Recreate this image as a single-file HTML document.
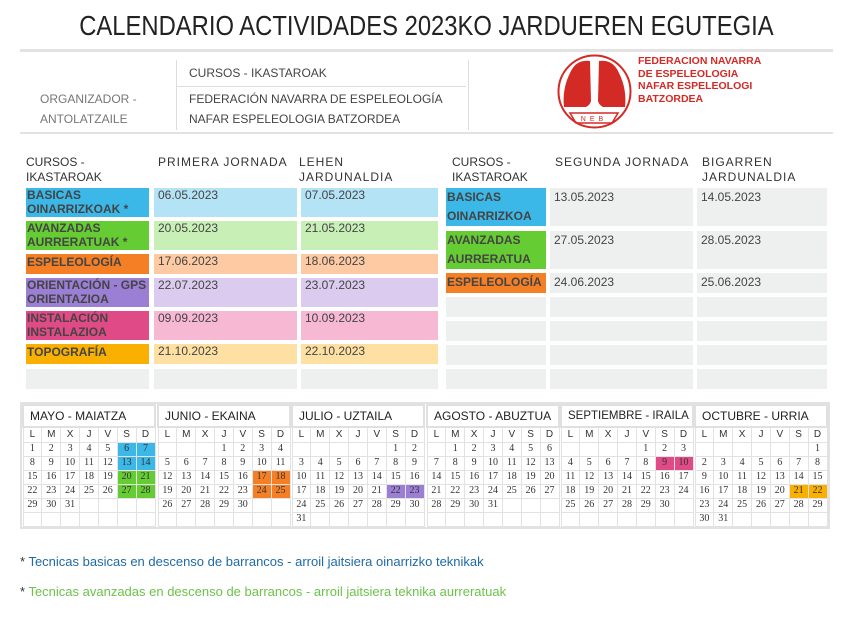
<!DOCTYPE html>
<html><head><meta charset="utf-8">
<style>
*{margin:0;padding:0;box-sizing:border-box}
body{width:853px;height:625px;background:#fff;font-family:"Liberation Sans",sans-serif;color:#333;position:relative;overflow:hidden}
.a{position:absolute}
.t{font-size:12px;color:#444;line-height:16px}
.h{font-size:12px;color:#333;letter-spacing:1px;line-height:15px}
.lab{font-weight:bold;font-size:12px;line-height:16px;color:#444;padding-left:1px;white-space:nowrap;overflow:hidden}
.d{font-size:12px;color:#444;padding-left:4px;line-height:15px}
table.m{position:absolute;border-collapse:collapse;table-layout:fixed;width:134px;font-family:"Liberation Serif",serif;font-size:10px;color:#333}
table.m td{border:1px solid #e2e2e2;width:19px;height:14px;text-align:center;padding:0;line-height:12px;overflow:hidden}
table.m tr.dh td{font-family:"Liberation Sans",sans-serif;font-size:10px;height:15px}
table.m th{font-family:"Liberation Sans",sans-serif;font-weight:normal;font-size:12px;text-align:left;padding-left:6px;height:22px;border:2px solid #e0e0e0;color:#222;white-space:nowrap;overflow:hidden}
.b{background:#3bb8e8}.g{background:#66cc33}.o{background:#f57f25}.p{background:#9b7fd4}.k{background:#e04a86}.y{background:#f9b000}
</style></head><body>
<div class="a" style="left:0;width:853px;top:10px;text-align:center;font-size:28px;color:#222;transform:scaleX(0.85);transform-origin:426px 0">CALENDARIO ACTIVIDADES 2023KO JARDUEREN EGUTEGIA</div>
<div class="a" style="left:20px;top:49px;width:813px;height:3px;background:#e2e2e2"></div>
<div class="a" style="left:20px;top:132px;width:813px;height:2px;background:#e2e2e2"></div>
<div class="a" style="left:176px;top:60px;width:1px;height:70px;background:#ddd"></div>
<div class="a" style="left:468px;top:60px;width:1px;height:70px;background:#ddd"></div>
<div class="a" style="left:176px;top:86px;width:290px;height:1px;background:#ddd"></div>
<div class="a t" style="left:189px;top:65px">CURSOS - IKASTAROAK</div>
<div class="a t" style="left:40px;top:89px;color:#777;line-height:20px">ORGANIZADOR -<br>ANTOLATZAILE</div>
<div class="a t" style="left:189px;top:89px;line-height:20px">FEDERACIÓN NAVARRA DE ESPELEOLOGÍA<br>NAFAR ESPELEOLOGIA BATZORDEA</div>
<svg class="a" style="left:556px;top:53px" width="77" height="77" viewBox="0 0 77 77">
<circle cx="38.5" cy="38.5" r="36" fill="#fff" stroke="#d42a25" stroke-width="2"/>
<path d="M14 20 Q20 6 34 8 L35 48 Q34 52 30 54 L8 54 Q6 36 14 20Z" fill="#d42a25"/>
<path d="M63 20 Q57 6 43 8 L42 48 Q43 52 47 54 L69 54 Q71 36 63 20Z" fill="#d42a25"/>
<path d="M14 60 L62 60 L56 70 L20 70Z" fill="none" stroke="#d42a25" stroke-width="1.5"/>
<text x="38" y="68" font-size="7" fill="#d42a25" text-anchor="middle" font-family="Liberation Sans" letter-spacing="4">NEB</text>
</svg>
<div class="a" style="left:638px;top:55px;font-weight:bold;font-size:10.5px;line-height:12.5px;color:#d42a25">FEDERACION NAVARRA<br>DE ESPELEOLOGIA<br>NAFAR ESPELEOLOGI<br>BATZORDEA</div>

<div class="a h" style="left:26px;top:155px;letter-spacing:0">CURSOS -<br>IKASTAROAK</div>
<div class="a h" style="left:158px;top:155px">PRIMERA JORNADA</div>
<div class="a h" style="left:299px;top:155px">LEHEN<br>JARDUNALDIA</div>

<div class="a lab b" style="left:26px;top:188px;width:123px;height:29px;line-height:14px">BASICAS<br>OINARRIZKOAK *</div>
<div class="a d" style="left:154px;top:188px;width:143px;height:29px;background:#b5e3f6">06.05.2023</div>
<div class="a d" style="left:301px;top:188px;width:137px;height:29px;background:#b5e3f6">07.05.2023</div>
<div class="a lab g" style="left:26px;top:221px;width:123px;height:29px;line-height:14px">AVANZADAS<br>AURRERATUAK *</div>
<div class="a d" style="left:154px;top:221px;width:143px;height:29px;background:#c8f0b6">20.05.2023</div>
<div class="a d" style="left:301px;top:221px;width:137px;height:29px;background:#c8f0b6">21.05.2023</div>
<div class="a lab o" style="left:26px;top:254px;width:123px;height:20px">ESPELEOLOGÍA</div>
<div class="a d" style="left:154px;top:254px;width:143px;height:20px;background:#fdcaa3">17.06.2023</div>
<div class="a d" style="left:301px;top:254px;width:137px;height:20px;background:#fdcaa3">18.06.2023</div>
<div class="a lab p" style="left:26px;top:278px;width:123px;height:29px;line-height:14px">ORIENTACIÓN - GPS<br>ORIENTAZIOA</div>
<div class="a d" style="left:154px;top:278px;width:143px;height:29px;background:#dacbef">22.07.2023</div>
<div class="a d" style="left:301px;top:278px;width:137px;height:29px;background:#dacbef">23.07.2023</div>
<div class="a lab k" style="left:26px;top:311px;width:123px;height:29px;line-height:14px">INSTALACIÓN<br>INSTALAZIOA</div>
<div class="a d" style="left:154px;top:311px;width:143px;height:29px;background:#f7b8d3">09.09.2023</div>
<div class="a d" style="left:301px;top:311px;width:137px;height:29px;background:#f7b8d3">10.09.2023</div>
<div class="a lab y" style="left:26px;top:344px;width:123px;height:20px">TOPOGRAFÍA</div>
<div class="a d" style="left:154px;top:344px;width:143px;height:20px;background:#fde0a2">21.10.2023</div>
<div class="a d" style="left:301px;top:344px;width:137px;height:20px;background:#fde0a2">22.10.2023</div>
<div class="a" style="left:26px;top:369px;width:123px;height:20px;background:#eef0ef"></div>
<div class="a" style="left:154px;top:369px;width:143px;height:20px;background:#eef0ef"></div>
<div class="a" style="left:301px;top:369px;width:137px;height:20px;background:#eef0ef"></div>

<div class="a h" style="left:452px;top:155px;letter-spacing:0">CURSOS -<br>IKASTAROAK</div>
<div class="a h" style="left:555px;top:155px">SEGUNDA JORNADA</div>
<div class="a h" style="left:702px;top:155px">BIGARREN<br>JARDUNALDIA</div>
<div class="a lab b" style="left:446px;top:188px;width:100px;height:38px;line-height:19px">BASICAS<br>OINARRIZKOA</div>
<div class="a d" style="left:550px;top:188px;width:143px;height:38px;background:#eef0ef;padding-top:2px">13.05.2023</div>
<div class="a d" style="left:697px;top:188px;width:130px;height:38px;background:#eef0ef;padding-top:2px">14.05.2023</div>
<div class="a lab g" style="left:446px;top:231px;width:100px;height:38px;line-height:19px">AVANZADAS<br>AURRERATUA</div>
<div class="a d" style="left:550px;top:231px;width:143px;height:38px;background:#eef0ef;padding-top:2px">27.05.2023</div>
<div class="a d" style="left:697px;top:231px;width:130px;height:38px;background:#eef0ef;padding-top:2px">28.05.2023</div>
<div class="a lab o" style="left:446px;top:273px;width:100px;height:20px;line-height:19px">ESPELEOLOGÍA</div>
<div class="a d" style="left:550px;top:273px;width:143px;height:20px;background:#eef0ef;padding-top:2px">24.06.2023</div>
<div class="a d" style="left:697px;top:273px;width:130px;height:20px;background:#eef0ef;padding-top:2px">25.06.2023</div>
<div class="a" style="left:446px;top:297px;width:100px;height:20px;background:#eef0ef"></div>
<div class="a" style="left:550px;top:297px;width:143px;height:20px;background:#eef0ef"></div>
<div class="a" style="left:697px;top:297px;width:130px;height:20px;background:#eef0ef"></div>
<div class="a" style="left:446px;top:321px;width:100px;height:20px;background:#eef0ef"></div>
<div class="a" style="left:550px;top:321px;width:143px;height:20px;background:#eef0ef"></div>
<div class="a" style="left:697px;top:321px;width:130px;height:20px;background:#eef0ef"></div>
<div class="a" style="left:446px;top:345px;width:100px;height:20px;background:#eef0ef"></div>
<div class="a" style="left:550px;top:345px;width:143px;height:20px;background:#eef0ef"></div>
<div class="a" style="left:697px;top:345px;width:130px;height:20px;background:#eef0ef"></div>
<div class="a" style="left:446px;top:369px;width:100px;height:20px;background:#eef0ef"></div>
<div class="a" style="left:550px;top:369px;width:143px;height:20px;background:#eef0ef"></div>
<div class="a" style="left:697px;top:369px;width:130px;height:20px;background:#eef0ef"></div>

<div class="a" style="left:20px;top:402px;width:810px;height:127px;border:2px solid #e2e2e2"></div>
<table class="m" style="left:22px;top:404px"><tr><th colspan="7">MAYO - MAIATZA</th></tr>
<tr class="dh"><td>L</td><td>M</td><td>X</td><td>J</td><td>V</td><td>S</td><td>D</td></tr>
<tr><td>1</td><td>2</td><td>3</td><td>4</td><td>5</td><td class="b">6</td><td class="b">7</td></tr>
<tr><td>8</td><td>9</td><td>10</td><td>11</td><td>12</td><td class="b">13</td><td class="b">14</td></tr>
<tr><td>15</td><td>16</td><td>17</td><td>18</td><td>19</td><td class="g">20</td><td class="g">21</td></tr>
<tr><td>22</td><td>23</td><td>24</td><td>25</td><td>26</td><td class="g">27</td><td class="g">28</td></tr>
<tr><td>29</td><td>30</td><td>31</td><td></td><td></td><td></td><td></td></tr>
<tr><td></td><td></td><td></td><td></td><td></td><td></td><td></td></tr></table>
<table class="m" style="left:157px;top:404px"><tr><th colspan="7">JUNIO - EKAINA</th></tr>
<tr class="dh"><td>L</td><td>M</td><td>X</td><td>J</td><td>V</td><td>S</td><td>D</td></tr>
<tr><td></td><td></td><td></td><td>1</td><td>2</td><td>3</td><td>4</td></tr>
<tr><td>5</td><td>6</td><td>7</td><td>8</td><td>9</td><td>10</td><td>11</td></tr>
<tr><td>12</td><td>13</td><td>14</td><td>15</td><td>16</td><td class="o">17</td><td class="o">18</td></tr>
<tr><td>19</td><td>20</td><td>21</td><td>22</td><td>23</td><td class="o">24</td><td class="o">25</td></tr>
<tr><td>26</td><td>27</td><td>28</td><td>29</td><td>30</td><td></td><td></td></tr>
<tr><td></td><td></td><td></td><td></td><td></td><td></td><td></td></tr></table>
<table class="m" style="left:291px;top:404px"><tr><th colspan="7">JULIO - UZTAILA</th></tr>
<tr class="dh"><td>L</td><td>M</td><td>X</td><td>J</td><td>V</td><td>S</td><td>D</td></tr>
<tr><td></td><td></td><td></td><td></td><td></td><td>1</td><td>2</td></tr>
<tr><td>3</td><td>4</td><td>5</td><td>6</td><td>7</td><td>8</td><td>9</td></tr>
<tr><td>10</td><td>11</td><td>12</td><td>13</td><td>14</td><td>15</td><td>16</td></tr>
<tr><td>17</td><td>18</td><td>19</td><td>20</td><td>21</td><td class="p">22</td><td class="p">23</td></tr>
<tr><td>24</td><td>25</td><td>26</td><td>27</td><td>28</td><td>29</td><td>30</td></tr>
<tr><td>31</td><td></td><td></td><td></td><td></td><td></td><td></td></tr></table>
<table class="m" style="left:426px;top:404px"><tr><th colspan="7">AGOSTO - ABUZTUA</th></tr>
<tr class="dh"><td>L</td><td>M</td><td>X</td><td>J</td><td>V</td><td>S</td><td>D</td></tr>
<tr><td></td><td>1</td><td>2</td><td>3</td><td>4</td><td>5</td><td>6</td></tr>
<tr><td>7</td><td>8</td><td>9</td><td>10</td><td>11</td><td>12</td><td>13</td></tr>
<tr><td>14</td><td>15</td><td>16</td><td>17</td><td>18</td><td>19</td><td>20</td></tr>
<tr><td>21</td><td>22</td><td>23</td><td>24</td><td>25</td><td>26</td><td>27</td></tr>
<tr><td>28</td><td>29</td><td>30</td><td>31</td><td></td><td></td><td></td></tr>
<tr><td></td><td></td><td></td><td></td><td></td><td></td><td></td></tr></table>
<table class="m" style="left:560px;top:404px"><tr><th colspan="7" style="font-size:11.5px">SEPTIEMBRE - IRAILA</th></tr>
<tr class="dh"><td>L</td><td>M</td><td>X</td><td>J</td><td>V</td><td>S</td><td>D</td></tr>
<tr><td></td><td></td><td></td><td></td><td>1</td><td>2</td><td>3</td></tr>
<tr><td>4</td><td>5</td><td>6</td><td>7</td><td>8</td><td class="k">9</td><td class="k">10</td></tr>
<tr><td>11</td><td>12</td><td>13</td><td>14</td><td>15</td><td>16</td><td>17</td></tr>
<tr><td>18</td><td>19</td><td>20</td><td>21</td><td>22</td><td>23</td><td>24</td></tr>
<tr><td>25</td><td>26</td><td>27</td><td>28</td><td>29</td><td>30</td><td></td></tr>
<tr><td></td><td></td><td></td><td></td><td></td><td></td><td></td></tr></table>
<table class="m" style="left:694px;top:404px"><tr><th colspan="7">OCTUBRE - URRIA</th></tr>
<tr class="dh"><td>L</td><td>M</td><td>X</td><td>J</td><td>V</td><td>S</td><td>D</td></tr>
<tr><td></td><td></td><td></td><td></td><td></td><td></td><td>1</td></tr>
<tr><td>2</td><td>3</td><td>4</td><td>5</td><td>6</td><td>7</td><td>8</td></tr>
<tr><td>9</td><td>10</td><td>11</td><td>12</td><td>13</td><td>14</td><td>15</td></tr>
<tr><td>16</td><td>17</td><td>18</td><td>19</td><td>20</td><td class="y">21</td><td class="y">22</td></tr>
<tr><td>23</td><td>24</td><td>25</td><td>26</td><td>27</td><td>28</td><td>29</td></tr>
<tr><td>30</td><td>31</td><td></td><td></td><td></td><td></td><td></td></tr></table>

<div class="a" style="left:20px;top:554px;font-size:13px;color:#1f6aa5"><span style="color:#333">*</span> Tecnicas basicas en descenso de barrancos - arroil jaitsiera oinarrizko teknikak</div>
<div class="a" style="left:20px;top:584px;font-size:13px;color:#6cc24a"><span style="color:#333">*</span> Tecnicas avanzadas en descenso de barrancos - arroil jaitsiera teknika aurreratuak</div>
</body></html>
